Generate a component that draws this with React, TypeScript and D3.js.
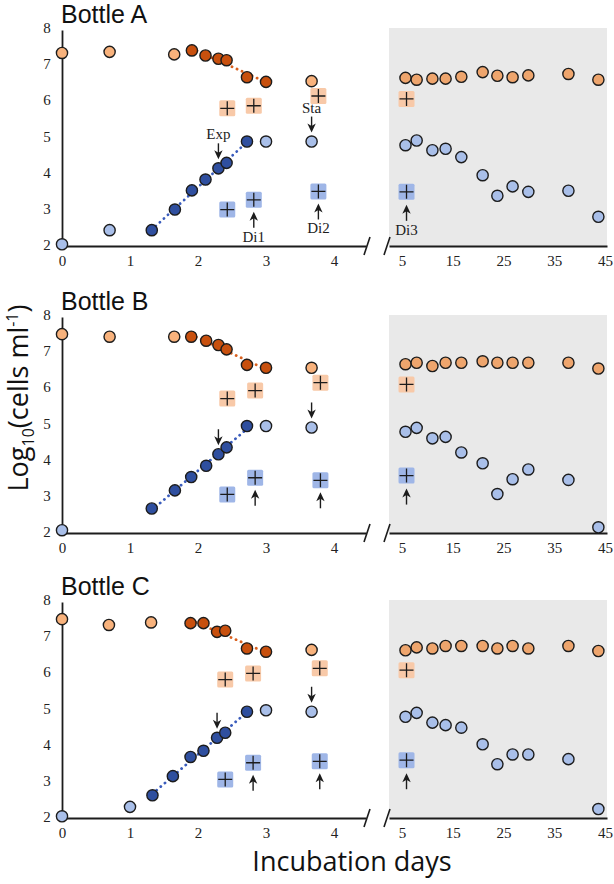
import React, { useEffect, useRef } from 'react';
import * as d3 from 'd3';

// sampling days in the long (shaded) part, shared by the three bottles
const lateDays = [5.7, 7.9, 11.0, 13.6, 16.7, 20.9, 23.8, 26.8, 29.9, 37.8, 43.7];
const lateDilutionDay = 5.9;

const yTicks = [2, 3, 4, 5, 6, 7, 8];
const earlyTicks = [0, 1, 2, 3, 4];
const lateTicks = [5, 15, 25, 35, 45];

// Bottle A
const aPaleOrangeDays = [0, 0.7, 1.65, 3.67];
const aPaleOrange = [7.31, 7.34, 7.27, 6.53];
const aDarkOrangeDays = [1.91, 2.11, 2.3, 2.42, 2.72, 3.0];
const aDarkOrange = [7.38, 7.24, 7.15, 7.11, 6.64, 6.51];
const aDarkBlueDays = [1.32, 1.66, 1.91, 2.11, 2.3, 2.42, 2.72];
const aDarkBlue = [2.41, 2.98, 3.51, 3.81, 4.12, 4.27, 4.86];
const aPaleBlueDays = [0, 0.7, 3.0, 3.67];
const aPaleBlue = [2.02, 2.41, 4.86, 4.86];
const aSquareDays = [2.43, 2.82, 3.77];
const aOrangeSquares = [5.78, 5.85, 6.12];
const aBlueSquares = [2.98, 3.25, 3.48];
const aLateOrange = [6.62, 6.57, 6.6, 6.6, 6.65, 6.78, 6.68, 6.64, 6.69, 6.73, 6.57];
const aLateBlue = [4.76, 4.89, 4.62, 4.66, 4.43, 3.93, 3.36, 3.62, 3.47, 3.5, 2.78];
const aLateSquares = [6.04, 3.47];

// Bottle B
const bPaleOrangeDays = [0, 0.7, 1.65, 3.67];
const bPaleOrange = [7.47, 7.4, 7.4, 6.54];
const bDarkOrangeDays = [1.9, 2.12, 2.3, 2.42, 2.72, 3.0];
const bDarkOrange = [7.4, 7.29, 7.17, 7.05, 6.62, 6.54];
const bDarkBlueDays = [1.32, 1.66, 1.9, 2.12, 2.3, 2.42, 2.72];
const bDarkBlue = [2.65, 3.15, 3.52, 3.83, 4.15, 4.34, 4.93];
const bPaleBlueDays = [0, 3.0, 3.67];
const bPaleBlue = [2.05, 4.93, 4.89];
const bSquareDays = [2.43, 2.84, 3.8];
const bOrangeSquares = [5.69, 5.91, 6.13];
const bBlueSquares = [3.04, 3.5, 3.43];
const bLateOrange = [6.64, 6.68, 6.59, 6.68, 6.68, 6.72, 6.68, 6.68, 6.68, 6.68, 6.52];
const bLateBlue = [4.77, 4.88, 4.59, 4.63, 4.2, 3.9, 3.05, 3.46, 3.73, 3.44, 2.13];
const bLateSquares = [6.08, 3.56];

// Bottle C
const cPaleOrangeDays = [0, 0.69, 1.31, 3.67];
const cPaleOrange = [7.47, 7.31, 7.38, 6.62];
const cDarkOrangeDays = [1.89, 2.08, 2.28, 2.4, 2.72, 3.0];
const cDarkOrange = [7.36, 7.36, 7.12, 7.15, 6.66, 6.57];
const cDarkBlueDays = [1.33, 1.63, 1.89, 2.08, 2.28, 2.4, 2.72];
const cDarkBlue = [2.6, 3.13, 3.66, 3.83, 4.19, 4.33, 4.91];
const cPaleBlueDays = [0, 1.0, 3.0, 3.67];
const cPaleBlue = [2.02, 2.28, 4.95, 4.91];
const cSquareDays = [2.4, 2.81, 3.79];
const cOrangeSquares = [5.8, 5.97, 6.11];
const cBlueSquares = [3.04, 3.5, 3.54];
const cLateOrange = [6.61, 6.69, 6.66, 6.73, 6.73, 6.73, 6.66, 6.73, 6.66, 6.73, 6.59];
const cLateBlue = [4.77, 4.88, 4.61, 4.54, 4.47, 4.01, 3.46, 3.73, 3.73, 3.6, 2.22];
const cLateSquares = [6.06, 3.57];

const bottles = [
  {
    title: 'Bottle A', labels: true,
    paleOrangeDays: aPaleOrangeDays, paleOrange: aPaleOrange,
    darkOrangeDays: aDarkOrangeDays, darkOrange: aDarkOrange,
    darkBlueDays: aDarkBlueDays, darkBlue: aDarkBlue,
    paleBlueDays: aPaleBlueDays, paleBlue: aPaleBlue,
    squareDays: aSquareDays, orangeSquares: aOrangeSquares, blueSquares: aBlueSquares,
    lateOrange: aLateOrange, lateBlue: aLateBlue, lateSquares: aLateSquares,
  },
  {
    title: 'Bottle B', labels: false,
    paleOrangeDays: bPaleOrangeDays, paleOrange: bPaleOrange,
    darkOrangeDays: bDarkOrangeDays, darkOrange: bDarkOrange,
    darkBlueDays: bDarkBlueDays, darkBlue: bDarkBlue,
    paleBlueDays: bPaleBlueDays, paleBlue: bPaleBlue,
    squareDays: bSquareDays, orangeSquares: bOrangeSquares, blueSquares: bBlueSquares,
    lateOrange: bLateOrange, lateBlue: bLateBlue, lateSquares: bLateSquares,
  },
  {
    title: 'Bottle C', labels: false,
    paleOrangeDays: cPaleOrangeDays, paleOrange: cPaleOrange,
    darkOrangeDays: cDarkOrangeDays, darkOrange: cDarkOrange,
    darkBlueDays: cDarkBlueDays, darkBlue: cDarkBlue,
    paleBlueDays: cPaleBlueDays, paleBlue: cPaleBlue,
    squareDays: cSquareDays, orangeSquares: cOrangeSquares, blueSquares: cBlueSquares,
    lateOrange: cLateOrange, lateBlue: cLateBlue, lateSquares: cLateSquares,
  },
];

const PALE_ORANGE = '#f8b27c';
const LATE_ORANGE = '#eea56d';
const DARK_ORANGE = '#c8500e';
const DARK_BLUE = '#2f4f9f';
const PALE_BLUE = '#a9bfe9';
const SQ_ORANGE = '#f8c9a8';
const SQ_BLUE = '#9fb6e7';
const GRAY = '#e9e9e9';
const INK = '#1c1c1c';
const SERIF = '"Liberation Serif", "DejaVu Serif", serif';
const SANS = '"Open Sans", "Noto Sans", sans-serif';
const TITLE_SANS = '"Liberation Sans", Arial, sans-serif';

// least squares fit, returns the two end points over the x range
const fit = (xs: number[], ys: number[]) => {
  const mx = d3.mean(xs) as number;
  const my = d3.mean(ys) as number;
  const sxy = d3.sum(xs, (x, i) => (x - mx) * (ys[i] - my));
  const sxx = d3.sum(xs, (x) => (x - mx) * (x - mx));
  const b = sxy / sxx;
  const a = my - b * mx;
  const x0 = d3.min(xs) as number;
  const x1 = d3.max(xs) as number;
  return [[x0, a + b * x0], [x1, a + b * x1]];
};

const App = () => {
  const chartRef = useRef<HTMLDivElement>(null);

  useEffect(() => {
    const width = 614;
    const height = 884;
    const tops = [28, 315, 600];
    const panelH = 217;

    d3.select(chartRef.current).selectAll('*').remove();

    const svg = d3.select(chartRef.current)
      .append('svg')
      .attr('width', width)
      .attr('height', height)
      .style('position', 'absolute')
      .style('left', 0)
      .style('top', 0)
      .style('background', '#fff');

    // left (early) and right (late, shaded) x scales
    const xEarly = d3.scaleLinear().domain([0, 4.47]).range([62, 366]);
    const xLate = d3.scaleLinear().domain([2.45, 45.4]).range([389, 607]);

    const arrow = (g: any, x: number, tip: number, dir: number) => {
      // dir = 1 points down, -1 points up
      g.append('line')
        .attr('x1', x).attr('x2', x)
        .attr('y1', tip - dir * 16).attr('y2', tip - dir * 6)
        .attr('stroke', INK).attr('stroke-width', 1.4);
      g.append('path')
        .attr('d', `M${x},${tip} L${x - 4.2},${tip - dir * 9} L${x},${tip - dir * 6.5} L${x + 4.2},${tip - dir * 9} Z`)
        .attr('fill', INK);
    };

    const label = (g: any, x: number, y: number, txt: string) => {
      g.append('text')
        .attr('x', x).attr('y', y)
        .attr('text-anchor', 'middle')
        .attr('font-family', SERIF)
        .attr('font-size', 15)
        .attr('fill', INK)
        .text(txt);
    };

    const circles = (g: any, xs: number[], ys: number[], x: any, y: any, fill: string) => {
      g.selectAll(null)
        .data(xs)
        .enter()
        .append('circle')
        .attr('cx', (d: number) => x(d))
        .attr('cy', (_: number, i: number) => y(ys[i]))
        .attr('r', 5.6)
        .attr('fill', fill)
        .attr('stroke', INK)
        .attr('stroke-width', 1.4);
    };

    const squares = (g: any, xs: number[], ys: number[], x: any, y: any, fill: string) => {
      const s = g.selectAll(null)
        .data(xs)
        .enter()
        .append('g')
        .attr('transform', (d: number, i: number) => `translate(${x(d)},${y(ys[i])})`);
      s.append('rect')
        .attr('x', -8).attr('y', -8)
        .attr('width', 16).attr('height', 16)
        .attr('rx', 1.5)
        .attr('fill', fill);
      s.append('path')
        .attr('d', 'M-7,0 H7 M0,-7 V7')
        .attr('stroke', INK)
        .attr('stroke-width', 1.3);
    };

    bottles.forEach((p, k) => {
      const top = tops[k];
      const y = d3.scaleLinear().domain([2, 8]).range([top + panelH, top]);
      const base = y(2) + 1;
      const g = svg.append('g');

      // shaded late-phase area
      g.append('rect')
        .attr('x', xLate.range()[0])
        .attr('y', y(8))
        .attr('width', xLate.range()[1] - xLate.range()[0])
        .attr('height', base - y(8))
        .attr('fill', GRAY);

      // axes
      const yAxis = g.append('g')
        .attr('transform', `translate(${xEarly(0)},0)`)
        .call(d3.axisLeft(d3.scaleLinear().domain([2, 8]).range([base, y(8) + 2])).tickValues([]).tickSize(0));
      yAxis.select('.domain').attr('stroke', INK).attr('stroke-width', 1.8);

      yTicks.forEach((t) => {
        g.append('text')
          .attr('x', 47).attr('y', y(t) + 5)
          .attr('text-anchor', 'middle')
          .attr('font-family', SERIF).attr('font-size', 15).attr('fill', '#222')
          .text(t);
      });

      [xEarly, xLate].forEach((sc, j) => {
        const ax = g.append('g')
          .attr('transform', `translate(0,${base})`)
          .call(d3.axisBottom(sc)
            .tickValues(j === 0 ? earlyTicks : lateTicks)
            .tickFormat(d3.format('d'))
            .tickSize(0)
            .tickPadding(9));
        ax.select('.domain').attr('stroke', INK).attr('stroke-width', 1.8);
        ax.selectAll('text')
          .attr('font-family', SERIF).attr('font-size', 15).attr('fill', '#222');
      });

      // axis break marks
      [367, 387].forEach((bx) => {
        g.append('line')
          .attr('x1', bx - 3).attr('y1', base + 9)
          .attr('x2', bx + 3).attr('y2', base - 9)
          .attr('stroke', INK).attr('stroke-width', 1.6);
      });

      // title
      g.append('text')
        .attr('x', 61).attr('y', top - 5)
        .attr('font-family', TITLE_SANS).attr('font-size', 25).attr('fill', '#111')
        .text(p.title);

      // dotted regression lines through the exponential phase
      const lineGen = d3.line<number[]>().x((d) => xEarly(d[0])).y((d) => y(d[1]));
      g.append('path')
        .attr('d', lineGen(fit(p.darkOrangeDays, p.darkOrange)))
        .attr('fill', 'none').attr('stroke', '#d9601e')
        .attr('stroke-width', 2.8).attr('stroke-linecap', 'round')
        .attr('stroke-dasharray', '0.1 5.4');
      g.append('path')
        .attr('d', lineGen(fit(p.darkBlueDays, p.darkBlue)))
        .attr('fill', 'none').attr('stroke', '#3a5cbc')
        .attr('stroke-width', 2.8).attr('stroke-linecap', 'round')
        .attr('stroke-dasharray', '0.1 5.4');

      // dilution squares
      squares(g, p.squareDays, p.orangeSquares, xEarly, y, SQ_ORANGE);
      squares(g, p.squareDays, p.blueSquares, xEarly, y, SQ_BLUE);
      squares(g, [lateDilutionDay], [p.lateSquares[0]], xLate, y, SQ_ORANGE);
      squares(g, [lateDilutionDay], [p.lateSquares[1]], xLate, y, SQ_BLUE);

      // circles
      circles(g, p.paleOrangeDays, p.paleOrange, xEarly, y, PALE_ORANGE);
      circles(g, p.darkOrangeDays, p.darkOrange, xEarly, y, DARK_ORANGE);
      circles(g, p.paleBlueDays, p.paleBlue, xEarly, y, PALE_BLUE);
      circles(g, p.darkBlueDays, p.darkBlue, xEarly, y, DARK_BLUE);
      circles(g, lateDays, p.lateOrange, xLate, y, LATE_ORANGE);
      circles(g, lateDays, p.lateBlue, xLate, y, PALE_BLUE);

      // sampling arrows
      const expX = xEarly(p.darkBlueDays[4]);
      const expTip = y(p.darkBlue[4]) - 9;
      arrow(g, expX, expTip, 1);
      const staI = p.paleBlueDays.length - 1;
      const staX = xEarly(p.paleBlueDays[staI]);
      const staTip = y(p.paleBlue[staI]) - 9;
      arrow(g, staX, staTip, 1);
      const di1X = xEarly(p.squareDays[1]);
      const di1Tip = y(p.blueSquares[1]) + 12;
      arrow(g, di1X, di1Tip, -1);
      const di2X = xEarly(p.squareDays[2]);
      const di2Tip = y(p.blueSquares[2]) + 12;
      arrow(g, di2X, di2Tip, -1);
      const di3X = xLate(lateDilutionDay);
      const di3Tip = y(p.lateSquares[1]) + 13;
      arrow(g, di3X, di3Tip, -1);

      if (p.labels) {
        label(g, expX, expTip - 20, 'Exp');
        label(g, staX, staTip - 20, 'Sta');
        label(g, di1X, di1Tip + 30, 'Di1');
        label(g, di2X, di2Tip + 30, 'Di2');
        label(g, di3X, di3Tip + 30, 'Di3');
      }
    });

    // y axis title
    const yt = svg.append('text')
      .attr('transform', 'translate(28,398) rotate(-90)')
      .attr('text-anchor', 'middle')
      .attr('font-family', SANS).attr('font-size', 27).attr('fill', '#111');
    yt.append('tspan').text('Log');
    yt.append('tspan').attr('font-size', 16).attr('dy', 6).text('10');
    yt.append('tspan').attr('dy', -6).text('(cells ml');
    yt.append('tspan').attr('font-size', 16).attr('dy', -10).text('-1');
    yt.append('tspan').attr('dy', 10).text(')');

    // x axis title
    svg.append('text')
      .attr('x', 352).attr('y', 871)
      .attr('text-anchor', 'middle')
      .attr('font-family', SANS).attr('font-size', 27).attr('fill', '#111')
      .text('Incubation days');
  }, []);

  return <div ref={chartRef}></div>;
};

export default App;
